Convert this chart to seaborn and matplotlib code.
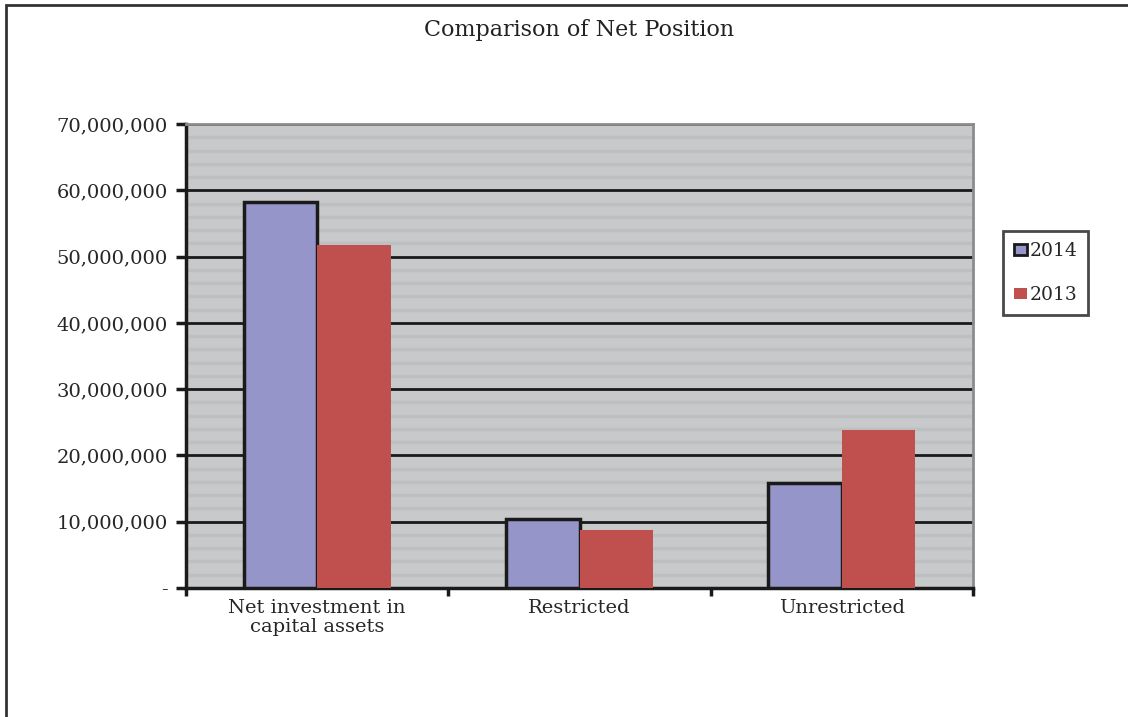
import matplotlib
matplotlib.use("Agg")
import matplotlib.pyplot as plt
import matplotlib.patches as mpatches
from matplotlib.ticker import MultipleLocator, FuncFormatter
import seaborn as sns
import pandas as pd

# values
categories = ["Net investment in\ncapital assets", "Restricted", "Unrestricted"]
years = ["2014", "2013"]
values_2014 = [58200000, 10400000, 15800000]
values_2013 = [51700000, 8750000, 23800000]

colors = {"2014": "#9595C9", "2013": "#C0504D"}

df = pd.DataFrame({
    "category": categories * 2,
    "year": ["2014"] * 3 + ["2013"] * 3,
    "value": values_2014 + values_2013,
})

sns.set_style("white")
plt.rcParams["font.family"] = ["DejaVu Serif"]

fig = plt.figure(figsize=(11.28, 7.17), dpi=100)
ax = fig.add_axes([0.1649, 0.1799, 0.6977, 0.6471])

sns.barplot(data=df, x="category", y="value", hue="year", hue_order=years,
            palette=colors, width=0.56, saturation=1, ax=ax, zorder=3)

# 2014 bars have a black outline, 2013 none
for bar in ax.containers[0]:
    bar.set_edgecolor("#1a1a1a")
    bar.set_linewidth(2.5)
for bar in ax.containers[1]:
    bar.set_linewidth(0)

ax.set_facecolor("#C8C9CB")
ax.set_xlim(-0.5, 2.5)
ax.set_ylim(0, 70000000)
ax.yaxis.set_major_locator(MultipleLocator(10000000))
ax.yaxis.set_minor_locator(MultipleLocator(2000000))
ax.yaxis.set_major_formatter(FuncFormatter(lambda v, p: "-" if v == 0 else f"{int(v):,}"))
ax.grid(which="major", axis="y", color="#1a1a1a", linewidth=2, zorder=1)
ax.grid(which="minor", axis="y", color="#BEBFC1", linewidth=2.5, zorder=1)
ax.set_axisbelow(True)

# category ticks sit between the groups
ax.set_xticks([-0.5, 0.5, 1.5, 2.5], minor=True)
ax.tick_params(axis="x", which="major", length=0, labelsize=14, pad=8)
ax.tick_params(axis="x", which="minor", length=6, width=2.5, color="#1a1a1a",
               direction="out", bottom=True)
ax.tick_params(axis="y", which="major", length=7, width=2.5, color="#1a1a1a",
               labelsize=14, pad=6, left=True)
ax.tick_params(axis="y", which="minor", length=0)
for lab in ax.get_xticklabels():
    lab.set_linespacing(1.05)

ax.set_xlabel("")
ax.set_ylabel("")
for side in ["left", "bottom"]:
    ax.spines[side].set_color("#1a1a1a")
    ax.spines[side].set_linewidth(2.5)
for side in ["top", "right"]:
    ax.spines[side].set_color("#8c8c8c")
    ax.spines[side].set_linewidth(2)

fig.text(579.5 / 1128, 1 - 30 / 717, "Comparison of Net Position", fontsize=16,
         ha="center", va="center", color="#222222")

handles = [
    mpatches.Patch(facecolor=colors["2014"], edgecolor="#1a1a1a", linewidth=2, label="2014"),
    mpatches.Patch(facecolor=colors["2013"], edgecolor="none", label="2013"),
]
leg = ax.legend(handles=handles, loc="center left", bbox_to_anchor=(1003 / 1128, 1 - 273 / 717),
                bbox_transform=fig.transFigure, frameon=True, fancybox=False,
                fontsize=13.5, handlelength=0.7, handleheight=0.5, handletextpad=0.1,
                labelspacing=1.4, borderpad=0.6, borderaxespad=0)
leg.get_frame().set_edgecolor("#1a1a1a")
leg.get_frame().set_linewidth(2)

# outer chart border
border = mpatches.Rectangle((6 / 1128, -0.05), 1.1, 1 - 5 / 717 + 0.05, transform=fig.transFigure,
                            fill=False, edgecolor="#333333", linewidth=2)
fig.patches.append(border)

fig.savefig("out.png", dpi=100)
